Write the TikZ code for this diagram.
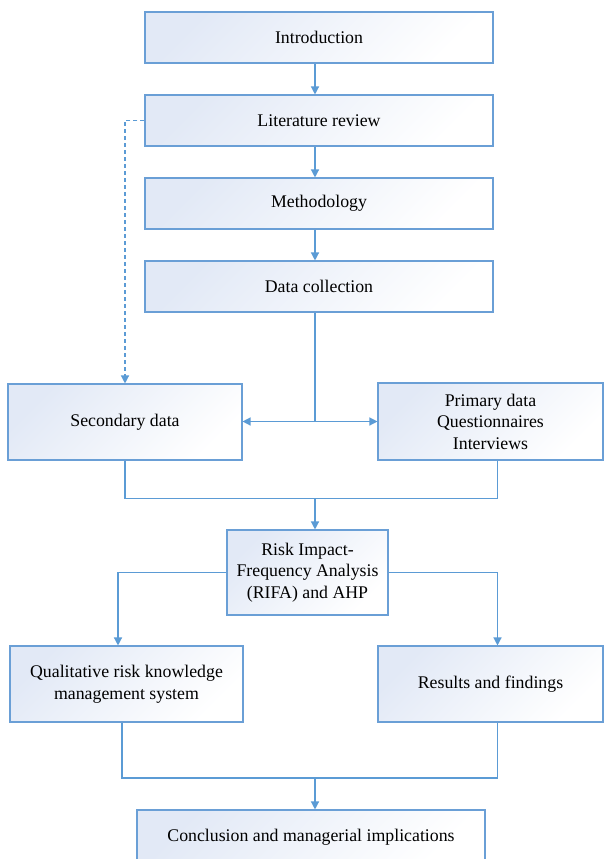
\documentclass[tikz,border=0pt]{standalone}
\usepackage{fontspec}
\setmainfont{Liberation Serif}
\usetikzlibrary{arrows.meta}
\definecolor{edge}{HTML}{6A9FD6}
\definecolor{lnk}{HTML}{5B9BD5}
\definecolor{tint}{HTML}{E2E9F6}
\tikzset{
  box/.style={draw=edge, line width=1.1pt, top color=tint, bottom color=white, shading angle=45,
    inner sep=2pt, align=center, font=\fontsize{17.8}{21.5}\selectfont, text=black},
  lnkline/.style={draw=lnk, line width=1.3pt},
  arr/.style={lnkline, -{Triangle[length=8pt,width=8pt]}},
  darr/.style={arr, dashed, dash pattern=on 4pt off 3pt}
}
\begin{document}
\begin{tikzpicture}[x=1pt,y=1pt]
\useasboundingbox (0,0) rectangle (604,-859);
\fill[white] (0,0) rectangle (604,-859);
\coordinate (ax) at (315,0);
\coordinate (cl) at (125,0);
\coordinate (cr) at (497.5,0);
\node[box, minimum width=348pt, minimum height=51pt] (intro) at (319,-37.5) {Introduction};
\node[box, minimum width=348pt, minimum height=51pt] (lit) at (319,-120.5) {Literature review};
\node[box, minimum width=348pt, minimum height=51pt] (meth) at (319,-203.5) {Methodology};
\node[box, minimum width=348pt, minimum height=51pt] (dc) at (319,-286.5) {Data collection};
\node[box, minimum width=234pt, minimum height=76pt] (sec) at (125,-422) {Secondary data};
\node[box, minimum width=225pt, minimum height=77pt] (pri) at (490.5,-421.5) {Primary data\\Questionnaires\\Interviews};
\node[box, minimum width=161pt, minimum height=85pt] (rifa) at (307.5,-572.5) {Risk Impact-\\Frequency Analysis\\(RIFA) and AHP};
\node[box, minimum width=233pt, minimum height=76pt] (qual) at (126.5,-684) {Qualitative risk knowledge\\management system};
\node[box, minimum width=225pt, minimum height=76pt] (res) at (490.5,-684) {Results and findings};
\node[box, minimum width=348pt, minimum height=54pt] (conc) at (311,-837) {Conclusion and managerial implications};
% main chain
\draw[arr] (intro.south -| ax) -- (lit.north -| ax);
\draw[arr] (lit.south -| ax) -- (meth.north -| ax);
\draw[arr] (meth.south -| ax) -- (dc.north -| ax);
\coordinate (j1) at (315,-421.5);
\draw[lnkline] (dc.south -| ax) -- (j1);
\draw[arr] (j1) -- (sec.east |- j1);
\draw[arr] (j1) -- (pri.west |- j1);
% dashed feedback
\draw[darr] (lit.west) -| (sec.north -| cl);
% merge to RIFA
\coordinate (j2) at (315,-498.5);
\draw[lnkline] (sec.south -| cl) |- (j2) -| (pri.south -| cr);
\draw[arr] (j2) -- (rifa.north -| ax);
% split from RIFA
\coordinate (ql) at (118,0);
\draw[arr] (rifa.west) -| (qual.north -| ql);
\draw[arr] (rifa.east) -| (res.north -| cr);
% merge to conclusion
\coordinate (qb) at (122,0);
\coordinate (j3) at (315,-778);
\draw[lnkline] (qual.south -| qb) |- (j3) -| (res.south -| cr);
\draw[arr] (j3) -- (conc.north -| ax);
\end{tikzpicture}
\end{document}
